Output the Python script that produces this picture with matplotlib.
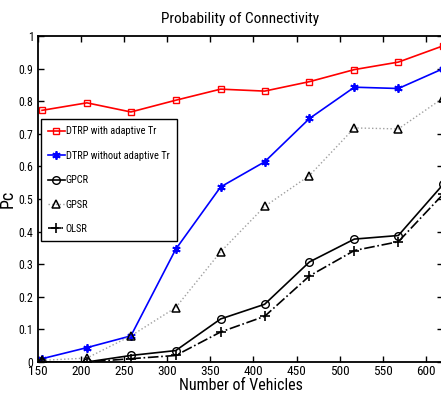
import matplotlib
matplotlib.use("Agg")
import matplotlib.pyplot as plt
from matplotlib.ticker import FormatStrFormatter

plt.rcParams['font.family'] = ['Roboto Condensed', 'Archivo Narrow', 'DejaVu Sans']

# number of vehicles
vehicles = [155, 207, 258, 310, 362, 413, 465, 517, 568, 620]

# probability of connectivity per protocol
dtrp_adaptive = [0.772, 0.795, 0.767, 0.803, 0.837, 0.831, 0.860, 0.897, 0.920, 0.970]
dtrp_fixed = [0.010, 0.044, 0.080, 0.346, 0.537, 0.614, 0.747, 0.843, 0.839, 0.900]
gpcr = [0.000, 0.000, 0.020, 0.035, 0.132, 0.177, 0.307, 0.377, 0.388, 0.545]
gpsr = [0.005, 0.012, 0.080, 0.167, 0.338, 0.477, 0.572, 0.718, 0.715, 0.810]
olsr = [0.000, 0.000, 0.010, 0.020, 0.092, 0.140, 0.264, 0.342, 0.369, 0.515]

x_ticks = [150, 200, 250, 300, 350, 400, 450, 500, 550, 600]
y_ticks = [0, 0.1, 0.2, 0.3, 0.4, 0.5, 0.6, 0.7, 0.8, 0.9, 1]

fig = plt.figure(figsize=(4.41, 3.98), dpi=100)
ax = fig.add_axes([0.0855, 0.0905, 0.9195, 0.819])

ax.plot(vehicles, dtrp_adaptive, color='red', lw=1.2, marker='s', ms=4.5,
        mfc='none', mec='red', mew=1.0, label='DTRP with adaptive Tr')
ax.plot(vehicles, dtrp_fixed, color='blue', lw=1.2, marker=(6, 2, 0), ms=6,
        mfc='blue', mec='blue', mew=1.3, label='DTRP without adaptive Tr')
ax.plot(vehicles, gpcr, color='black', lw=1.2, marker='o', ms=5.5,
        mfc='none', mec='black', mew=1.0, label='GPCR')
ax.plot(vehicles, gpsr, color='#a0a0a0', lw=1.0, ls=':', marker='^', ms=6,
        mfc='none', mec='black', mew=1.1, label='GPSR')
ax.plot(vehicles, olsr, color='black', lw=1.2, ls='-.', marker='+', ms=7,
        mec='black', mew=1.2, label='OLSR')

ax.set_xlim(150, 620)
ax.set_ylim(0, 1)
ax.set_xticks(x_ticks)
ax.set_yticks(y_ticks)
ax.yaxis.set_major_formatter(FormatStrFormatter('%g'))
ax.tick_params(direction='in', length=4, width=1.0, top=True, right=True,
               labelsize=9.5, pad=2)
ax.tick_params(axis='y', pad=3, labelsize=8.5)
for s in ax.spines.values():
    s.set_linewidth(1.3)

ax.set_xlabel('Number of Vehicles', fontsize=11.5, labelpad=0)
ax.set_ylabel('Pc', fontsize=13)
ax.yaxis.set_label_coords(-0.052, 0.5)
ax.set_title('Probability of Connectivity', fontsize=11, pad=9.5)

leg = ax.legend(loc='upper left', bbox_to_anchor=(0.007, 0.745), fontsize=7.5,
                frameon=True, fancybox=False, framealpha=1, edgecolor='black',
                handlelength=1.6, handletextpad=0.1, labelspacing=1.38,
                borderpad=0.7, borderaxespad=0)
leg.get_frame().set_linewidth(1.0)

fig.savefig('out.png', dpi=100)
